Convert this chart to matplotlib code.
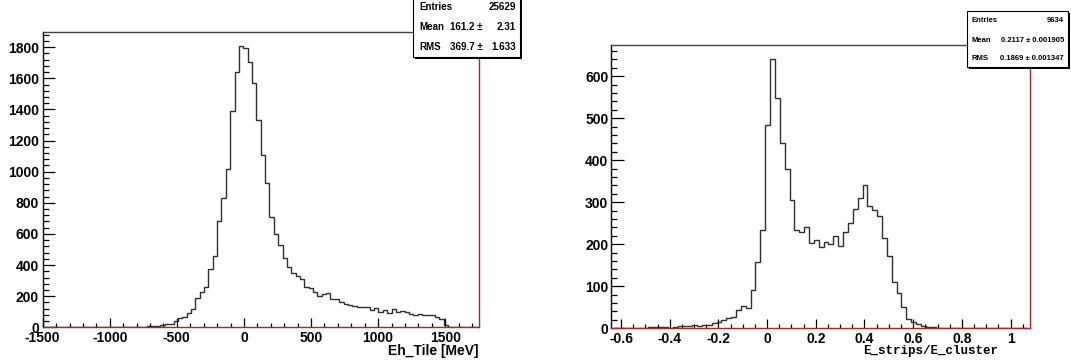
import matplotlib.pyplot as plt
import matplotlib.patches as patches
import matplotlib.ticker as mticker
import numpy as np

plt.rcParams['font.family'] = ['Liberation Sans', 'DejaVu Sans']
plt.rcParams['axes.unicode_minus'] = False

W, H = 1071, 364

# left histogram: Eh_Tile [MeV], 100 bins from -1500 to 1750
eh_lo, eh_hi = -1500, 1750
eh_counts = [0, 0, 0, 0, 0, 0, 0, 0, 0, 0,
             0, 0, 0, 0, 0, 0, 0, 1, 2, 2,
             3, 3, 4, 5, 8, 9, 10, 14, 20, 18,
             43, 58, 69, 90, 116, 191, 225, 257, 373, 461,
             684, 829, 1018, 1391, 1644, 1809, 1794, 1706, 1573, 1333,
             1108, 926, 711, 600, 529, 444, 390, 351, 330, 309,
             261, 251, 225, 201, 214, 219, 184, 180, 165, 150,
             144, 137, 129, 133, 129, 111, 122, 99, 111, 94,
             116, 99, 105, 96, 86, 79, 86, 81, 79, 81,
             69, 51, 15, 0, 0, 0, 0, 0, 0, 0]
eh_stats = [('Entries', '', '25629'), ('Mean', '161.2 \u00b1', '2.31'), ('RMS', '369.7 \u00b1', '1.633')]

# right histogram: E_strips/E_cluster, bins of 0.02 starting at -0.628
es_lo, es_w = -0.628, 0.02
es_counts = [0, 0, 1, 0, 1, 1, 0, 2, 3, 2,
             3, 1, 4, 5, 6, 5, 7, 6, 8, 8,
             13, 16, 20, 24, 26, 44, 53, 48, 90, 158,
             235, 483, 641, 548, 440, 380, 305, 235, 228, 240,
             202, 210, 193, 205, 200, 220, 196, 230, 250, 285,
             310, 340, 292, 282, 268, 215, 172, 110, 85, 50,
             22, 15, 10, 6, 3, 2, 1, 1, 0, 1,
             0, 0, 1, 0, 0, 1, 0, 0, 0, 0,
             0, 0, 0, 0, 0]
es_stats = [('Entries', '9634'), ('Mean', '0.2117 \u00b1 0.001905'), ('RMS', '0.1869 \u00b1 0.001347')]

red = '#a82828'
line = '#2e2e2e'


def fx(x):
    return x / W


def fy(y):
    return 1 - y / H


def frame(ax):
    ax.spines['left'].set_color('black')
    ax.spines['top'].set_color('#444444')
    ax.spines['right'].set_color(red)
    ax.spines['bottom'].set_color(red)
    for s in ax.spines.values():
        s.set_linewidth(1.0)
    ax.tick_params(which='both', direction='in', top=False, right=False, color='black', width=0.9)
    for lab in ax.get_xticklabels() + ax.get_yticklabels():
        lab.set_fontweight('bold')


fig = plt.figure(figsize=(W / 100, H / 100), dpi=100)

# ---- left panel
ax1 = fig.add_axes([fx(42.7), fy(327.3), fx(478.7 - 42.7), (327.3 - 32.3) / H])
edges1 = np.linspace(eh_lo, eh_hi, len(eh_counts) + 1)
ax1.stairs(eh_counts, edges1, color=line, lw=1.0)
ax1.set_xlim(eh_lo, eh_hi)
ax1.set_ylim(0, 1896)
ax1.xaxis.set_major_locator(mticker.MultipleLocator(500))
ax1.xaxis.set_minor_locator(mticker.MultipleLocator(100))
ax1.yaxis.set_major_locator(mticker.MultipleLocator(200))
ax1.yaxis.set_minor_locator(mticker.MultipleLocator(40))
ax1.xaxis.set_major_formatter(mticker.FormatStrFormatter('%g'))
ax1.tick_params(axis='y', which='major', length=8.6, pad=2.6, labelsize=10)
ax1.tick_params(axis='y', which='minor', length=4.6)
ax1.tick_params(axis='x', which='major', length=6.4, pad=2.6, labelsize=10)
ax1.tick_params(axis='x', which='minor', length=3.0)
frame(ax1)
fig.text(fx(478.7), fy(351), 'Eh_Tile [MeV]', ha='right', va='center', fontsize=10, fontweight='bold')

# ---- right panel
ax2 = fig.add_axes([fx(611.4), fy(328.3), fx(1029.5 - 611.4), (328.3 - 45) / H])
edges2 = es_lo + es_w * np.arange(len(es_counts) + 1)
ax2.stairs(es_counts, edges2, color=line, lw=1.0)
ax2.set_xlim(-0.64, 1.078)
ax2.set_ylim(0, 674)
ax2.xaxis.set_major_locator(mticker.MultipleLocator(0.2))
ax2.xaxis.set_minor_locator(mticker.MultipleLocator(0.05))
ax2.yaxis.set_major_locator(mticker.MultipleLocator(100))
ax2.yaxis.set_minor_locator(mticker.MultipleLocator(20))
ax2.xaxis.set_major_formatter(mticker.FormatStrFormatter('%g'))
ax2.tick_params(axis='y', which='major', length=9.4, pad=2.2, labelsize=10)
ax2.tick_params(axis='y', which='minor', length=4.6)
ax2.tick_params(axis='x', which='major', length=6.4, pad=2.6, labelsize=10)
ax2.tick_params(axis='x', which='minor', length=3.2)
frame(ax2)
fig.text(fx(998), fy(351), 'E_strips/E_cluster', ha='right', va='center', fontsize=9,
         fontweight='bold', family=['Liberation Mono', 'DejaVu Sans Mono'])


# ---- stat boxes
def statbox(x0, y0, x1, y1):
    fig.add_artist(patches.Rectangle((fx(x0 + 2), fy(y1 + 2)), fx(x1 - x0), (y1 - y0) / H,
                                     transform=fig.transFigure, facecolor='black', edgecolor='none'))
    fig.add_artist(patches.Rectangle((fx(x0), fy(y1)), fx(x1 - x0), (y1 - y0) / H,
                                     transform=fig.transFigure, facecolor='white',
                                     edgecolor='black', lw=0.8))


statbox(413, -2, 520, 57)
for (name, mid, val), y in zip(eh_stats, [7, 27, 47]):
    fig.text(fx(419), fy(y), name, ha='left', va='center', fontsize=7, fontweight='bold')
    fig.text(fx(516), fy(y), val, ha='right', va='center', fontsize=7, fontweight='bold')
    if mid:
        fig.text(fx(483), fy(y), mid, ha='right', va='center', fontsize=7, fontweight='bold')

statbox(967, 11, 1068, 67)
for (name, val), y in zip(es_stats, [21, 40, 59]):
    fig.text(fx(972), fy(y), name, ha='left', va='center', fontsize=5.5, fontweight='bold')
    fig.text(fx(1064), fy(y), val, ha='right', va='center', fontsize=5.5, fontweight='bold')

fig.savefig('out.png', dpi=100)
